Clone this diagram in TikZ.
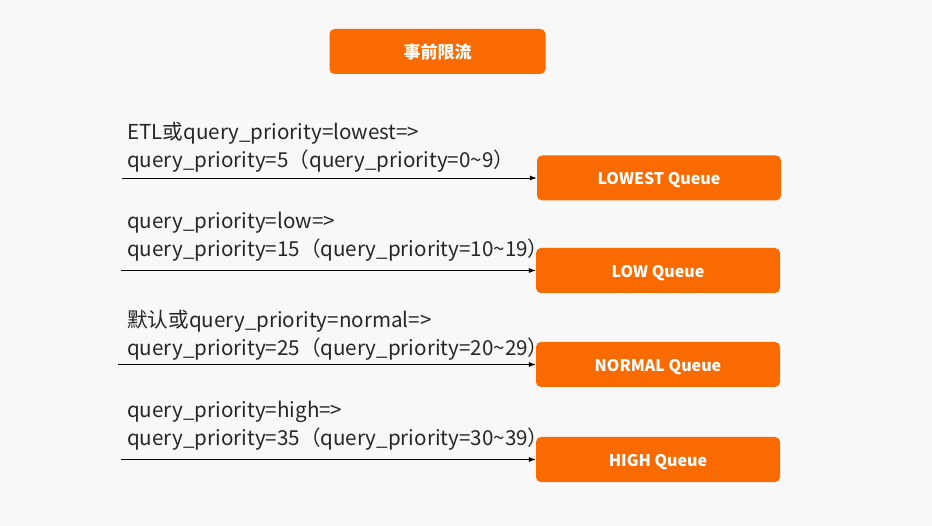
\documentclass[tikz,border=0pt]{standalone}
\usepackage{fontspec}
\setmainfont{Noto Sans CJK SC}
\usetikzlibrary{arrows.meta}
\definecolor{bg}{RGB}{248,248,248}
\definecolor{orng}{RGB}{249,106,0}
\tikzset{
  qbox/.style={fill=orng, draw=none, rounded corners=5pt, text=white,
    font=\fontsize{16}{18}\selectfont\bfseries, minimum width=244pt, minimum height=45pt, inner sep=0pt,
    text height=14pt, text depth=-2pt},
  lbl/.style={anchor=north west, align=left, inner sep=0pt, text=black!85,
    font=\fontsize{20.6}{28}\selectfont},
  arr/.style={-{Latex[length=7pt,width=5pt]}, line width=0.8pt, black}
}
\begin{document}
\begin{tikzpicture}[x=1pt,y=-1pt]
\fill[bg] (0,0) rectangle (932,526);
\useasboundingbox (0,0) rectangle (932,526);
\node[qbox, minimum width=216pt, minimum height=45pt, font=\fontsize{17}{19}\selectfont\bfseries] (title) at (437.5,51.5) {事前限流};
\node[qbox] (lowest) at (659,178) {LOWEST Queue};
\node[qbox] (low) at (658,270.5) {LOW Queue};
\node[qbox] (normal) at (658,364.5) {NORMAL Queue};
\node[qbox] (high) at (658,459.5) {HIGH Queue};
\node[lbl] (t1) at (127,122) {ETL或query\_priority=lowest=>\\query\_priority=5（query\_priority=0\textasciitilde9）};
\node[lbl] (t2) at (127,212) {query\_priority=low=>\\query\_priority=15（query\_priority=10\textasciitilde19）};
\node[lbl] (t3) at (127,310) {默认或query\_priority=normal=>\\query\_priority=25（query\_priority=20\textasciitilde29）};
\node[lbl] (t4) at (127,401) {query\_priority=high=>\\query\_priority=35（query\_priority=30\textasciitilde39）};
\coordinate (s1) at (122,178);
\coordinate (s2) at (121,270.5);
\coordinate (s3) at (118,364.5);
\coordinate (s4) at (121,459.5);
\draw[arr] (s1) -- (lowest.west);
\draw[arr] (s2) -- (low.west);
\draw[arr] (s3) -- (normal.west);
\draw[arr] (s4) -- (high.west);
\end{tikzpicture}
\end{document}
